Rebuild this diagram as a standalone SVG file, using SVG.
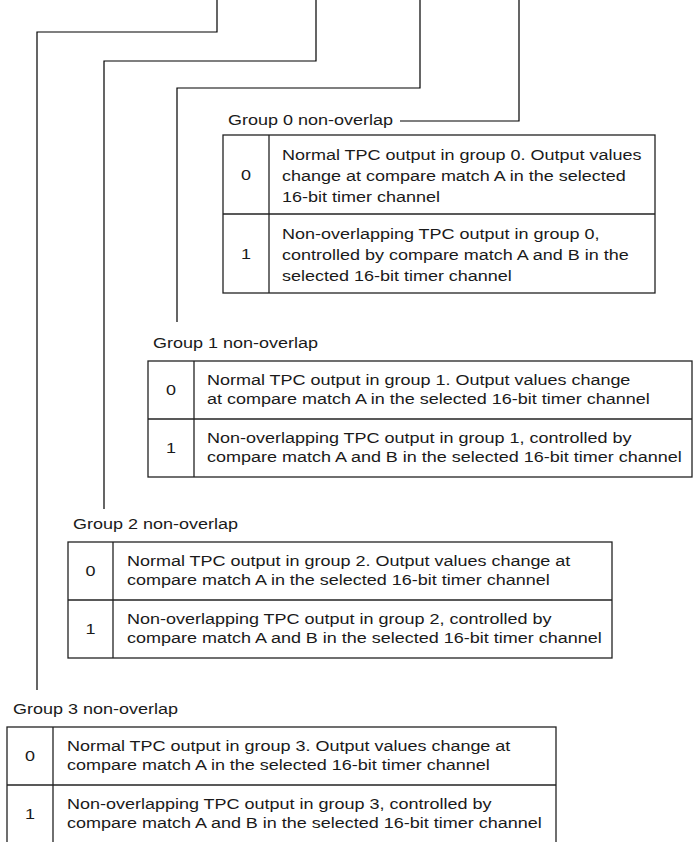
<svg xmlns="http://www.w3.org/2000/svg" width="696" height="842" viewBox="0 0 696 842">
<style>
.bg{fill:#fff}
.tb{fill:none;stroke:#222;stroke-width:1.3}
.cn{fill:none;stroke:#000;stroke-width:1.2}
text{font-family:"Liberation Sans",Arial,sans-serif;font-size:15px;fill:#1a1a1a}
.c{text-anchor:middle}
</style>
<rect class="bg" x="0" y="0" width="696" height="842"/>
<g id="connectors">
<path class="cn" d="M217,0 V32 H37 V690"/>
<path class="cn" d="M316,0 V61 H104 V509"/>
<path class="cn" d="M420,0 V88 H177 V322"/>
<path class="cn" d="M519,0 V121 H400"/>
</g>
<g id="group0">
<text transform="matrix(1.2,0,0,1,228,125)">Group 0 non-overlap</text>
<rect class="tb" x="223" y="135" width="432" height="158"/>
<line class="tb" x1="269" y1="135" x2="269" y2="293"/>
<line class="tb" x1="223" y1="214" x2="655" y2="214"/>
<text class="c" transform="matrix(1.2,0,0,1,246,180)">0</text>
<text transform="matrix(1.2,0,0,1,282,159.5)">Normal TPC output in group 0. Output values</text>
<text transform="matrix(1.2,0,0,1,282,180.5)">change at compare match A in the selected</text>
<text transform="matrix(1.2,0,0,1,282,201.5)">16-bit timer channel</text>
<text class="c" transform="matrix(1.2,0,0,1,246,259)">1</text>
<text transform="matrix(1.2,0,0,1,282,238.5)">Non-overlapping TPC output in group 0,</text>
<text transform="matrix(1.2,0,0,1,282,259.5)">controlled by compare match A and B in the</text>
<text transform="matrix(1.2,0,0,1,282,280.5)">selected 16-bit timer channel</text>
</g>
<g id="group1">
<text transform="matrix(1.2,0,0,1,153,348)">Group 1 non-overlap</text>
<rect class="tb" x="148" y="361" width="544" height="116"/>
<line class="tb" x1="194" y1="361" x2="194" y2="477"/>
<line class="tb" x1="148" y1="419" x2="692" y2="419"/>
<text class="c" transform="matrix(1.2,0,0,1,171,395)">0</text>
<text transform="matrix(1.2,0,0,1,207,385)">Normal TPC output in group 1. Output values change</text>
<text transform="matrix(1.2,0,0,1,207,404)">at compare match A in the selected 16-bit timer channel</text>
<text class="c" transform="matrix(1.2,0,0,1,171,453)">1</text>
<text transform="matrix(1.2,0,0,1,207,443)">Non-overlapping TPC output in group 1, controlled by</text>
<text transform="matrix(1.2,0,0,1,207,462)">compare match A and B in the selected 16-bit timer channel</text>
</g>
<g id="group2">
<text transform="matrix(1.2,0,0,1,73,529)">Group 2 non-overlap</text>
<rect class="tb" x="68" y="542" width="544" height="116"/>
<line class="tb" x1="113" y1="542" x2="113" y2="658"/>
<line class="tb" x1="68" y1="600" x2="612" y2="600"/>
<text class="c" transform="matrix(1.2,0,0,1,90.5,576)">0</text>
<text transform="matrix(1.2,0,0,1,127,566)">Normal TPC output in group 2. Output values change at</text>
<text transform="matrix(1.2,0,0,1,127,585)">compare match A in the selected 16-bit timer channel</text>
<text class="c" transform="matrix(1.2,0,0,1,90.5,634)">1</text>
<text transform="matrix(1.2,0,0,1,127,624)">Non-overlapping TPC output in group 2, controlled by</text>
<text transform="matrix(1.2,0,0,1,127,643)">compare match A and B in the selected 16-bit timer channel</text>
</g>
<g id="group3">
<text transform="matrix(1.2,0,0,1,13,714)">Group 3 non-overlap</text>
<rect class="tb" x="7" y="727" width="549" height="120"/>
<line class="tb" x1="53" y1="727" x2="53" y2="847"/>
<line class="tb" x1="7" y1="785" x2="556" y2="785"/>
<text class="c" transform="matrix(1.2,0,0,1,30,761)">0</text>
<text transform="matrix(1.2,0,0,1,67,751)">Normal TPC output in group 3. Output values change at</text>
<text transform="matrix(1.2,0,0,1,67,770)">compare match A in the selected 16-bit timer channel</text>
<text class="c" transform="matrix(1.2,0,0,1,30,819)">1</text>
<text transform="matrix(1.2,0,0,1,67,809)">Non-overlapping TPC output in group 3, controlled by</text>
<text transform="matrix(1.2,0,0,1,67,828)">compare match A and B in the selected 16-bit timer channel</text>
</g>
</svg>
